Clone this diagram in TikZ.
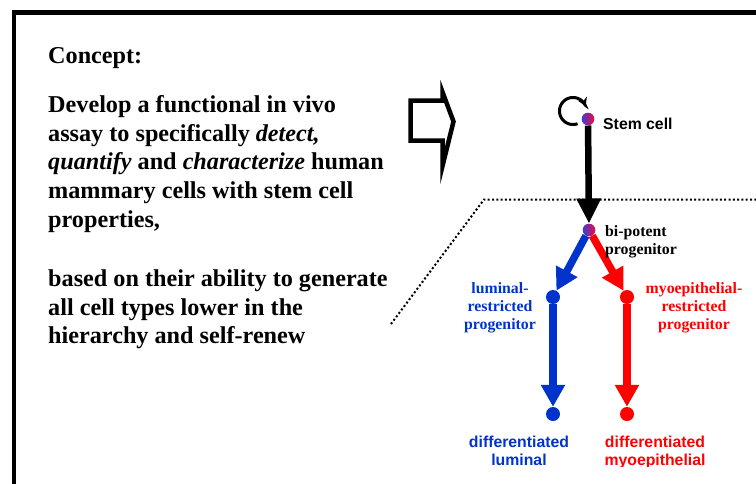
\documentclass[tikz,border=0pt]{standalone}
\usepackage{fontspec}
\setmainfont{Liberation Serif}
\setsansfont{Liberation Sans}
\usetikzlibrary{arrows.meta}
\definecolor{lumblue}{RGB}{0,51,204}
\definecolor{myored}{RGB}{255,0,0}
\definecolor{dotblue}{RGB}{60,60,215}
\definecolor{dotred}{RGB}{240,10,60}
\begin{document}
\begin{tikzpicture}[x=1pt,y=-1pt,
  txt/.style={anchor=base west, inner sep=0pt, font=\fontsize{24.2}{29}\selectfont\bfseries},
  lab/.style={anchor=base, inner sep=0pt, font=\fontsize{15.8}{18}\selectfont\bfseries},
  slab/.style={anchor=base, inner sep=0pt, font=\fontsize{15.8}{18}\selectfont\sffamily\bfseries},
  cell/.style={circle, inner sep=0pt, minimum size=12.6pt},
  gcell/.style={cell, left color=dotblue, right color=dotred},
  bdot/.style={circle, inner sep=0pt, minimum size=14pt, fill=lumblue},
  rdot/.style={circle, inner sep=0pt, minimum size=14pt, fill=myored},
  bigarrow/.style={line width=6.5pt, -{Triangle[length=25pt,width=23pt]}},
  colarrow/.style={line width=7.5pt, -{Triangle[length=22pt,width=23pt]}}
]
\useasboundingbox (0,0) rectangle (756,483);
\clip (0,0) rectangle (756,483);
% frame
\draw[line width=4.5pt] (14,800) -- (14,12.5) -- (800,12.5);

% left text
\node[txt] (c0) at (48,63) {Concept:};
\node[txt] (c1) at (48,112.7) {Develop a functional in vivo};
\node[txt] (c2) at (48,141.3) {assay to specifically \textit{detect,}};
\node[txt] (c3) at (48,169.9) {\textit{quantify} and \textit{characterize} human};
\node[txt] (c4) at (48,198.5) {mammary cells with stem cell};
\node[txt] (c5) at (48,227.1) {properties,};
\node[txt] (c6) at (48,286.5) {based on their ability to generate};
\node[txt] (c7) at (48,315) {all cell types lower in the};
\node[txt] (c8) at (48,343.5) {hierarchy and self-renew};

% block arrow
\draw[line width=4.5pt, line join=miter, fill=white]
  (410.5,100.5) -- (442.5,100.5) -- (442.5,92) -- (453.5,121.5) -- (442.5,166)
  -- (442.5,140.5) -- (410.5,140.5) -- cycle;

% dotted boundary
\draw[line width=2pt, dash pattern=on 2pt off 2.3pt] (391,324) -- (484,199.5) -- (770,199.5);

% cells
\node[gcell] (stem) at (588,119) {};
\node[gcell] (bp) at (589,230) {};
\node[bdot] (lum) at (553,297) {};
\node[bdot] (lumd) at (553,414) {};
\node[rdot] (my) at (627,297) {};
\node[rdot] (myd) at (627,414) {};

% self-renewal arrow
\draw[line width=3pt, -{Stealth[length=8pt,width=10pt]}]
  plot[domain=70:338, samples=60, smooth] ({573+13.5*cos(\x)}, {111+13.5*sin(\x)});

% lineage arrows
\draw[bigarrow] (stem) -- (bp);
\draw[colarrow, lumblue] (bp) -- (lum);
\draw[colarrow, myored] (bp) -- (my);
\draw[colarrow, lumblue] (lum) -- (lumd);
\draw[colarrow, myored] (my) -- (myd);

% labels
\node[slab, anchor=base west] (stemlab) at (603,129.7) {Stem cell};
\node[lab, anchor=base west] (bp1) at (605,236) {bi-potent};
\node[lab, anchor=base west] (bp2) at (605,254) {progenitor};
\node[lab, lumblue] (l1) at (500,293) {luminal-};
\node[lab, lumblue] (l2) at (500,311) {restricted};
\node[lab, lumblue] (l3) at (500,329) {progenitor};
\node[lab, myored] (m1) at (694,293) {myoepithelial-};
\node[lab, myored] (m2) at (694,311) {restricted};
\node[lab, myored] (m3) at (694,329) {progenitor};

\begin{scope}
\clip (0,0) rectangle (756,466);
\node[slab, lumblue] (d1) at (519,447) {differentiated};
\node[slab, lumblue] (d2) at (519,465) {luminal};
\node[slab, myored] (d3) at (655,447) {differentiated};
\node[slab, myored] (d4) at (655,465) {myoepithelial};
\end{scope}
\end{tikzpicture}
\end{document}
